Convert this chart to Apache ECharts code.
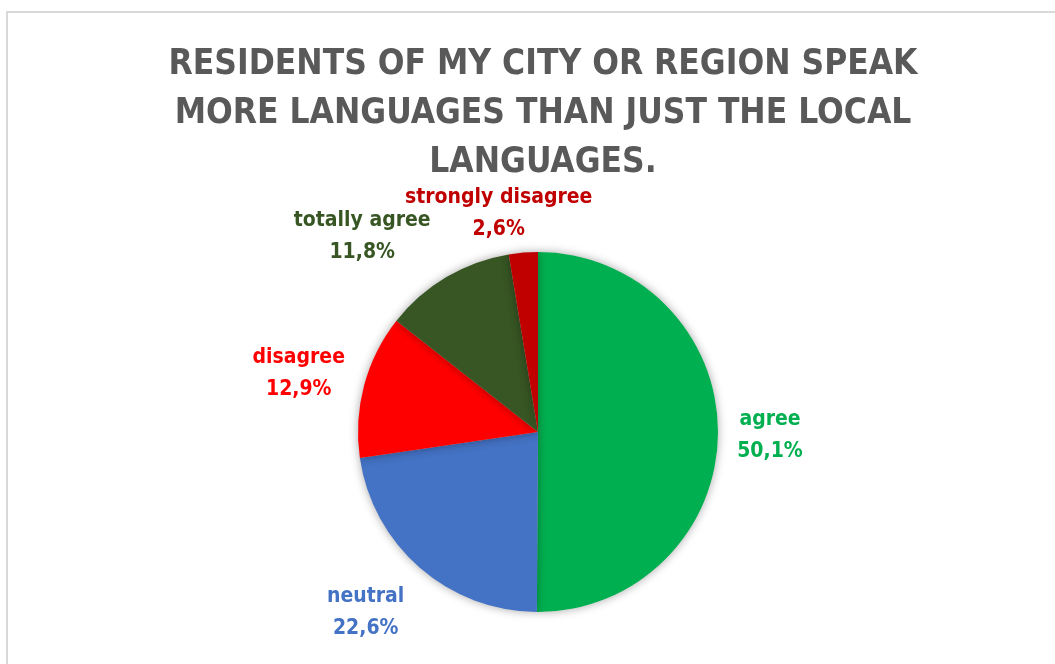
<!DOCTYPE html>
<html>
<head>
<meta charset="utf-8">
<script src="https://cdn.jsdelivr.net/npm/echarts@6/dist/echarts.min.js"></script>
<style>
  html, body { margin: 0; padding: 0; background: #ffffff; overflow: hidden; }
  #frame { position: absolute; left: 6px; top: 11px; width: 1100px; height: 700px;
           border: 2px solid #d9d9d9; box-sizing: border-box; }
  #chart { position: absolute; left: 0; top: 0; width: 1055px; height: 664px; }
</style>
</head>
<body>
<div id="frame"></div>
<div id="chart"></div>
<script>
// Survey answers, clockwise from twelve o'clock
const categories = ['agree', 'neutral', 'disagree', 'totally agree', 'strongly disagree'];
const shares = [50.1, 22.6, 12.9, 11.8, 2.6];
const sliceColors = ['#00B050', '#4472C4', '#FF0000', '#375623', '#C00000'];

// Nudges that move each label off the default outside spot
const labelNudge = [[27, 3], [-36, 30], [-41, -7], [-69, -23], [-18, -19]];

const titleText = 'RESIDENTS OF MY CITY OR REGION SPEAK\nMORE LANGUAGES THAN JUST THE LOCAL\nLANGUAGES.';
const fontStack = "'DejaVu Sans Condensed', 'Liberation Sans', sans-serif";

const chart = echarts.init(document.getElementById('chart'), null, { renderer: 'canvas' });

const data = categories.map((name, i) => ({
  name: name,
  value: shares[i],
  itemStyle: { color: sliceColors[i] },
  label: { color: sliceColors[i] }
}));

chart.setOption({
  backgroundColor: 'transparent',
  animation: false,
  title: {
    text: titleText,
    left: 538,
    top: 35,
    textAlign: 'center',
    textStyle: {
      fontFamily: fontStack,
      fontWeight: 'bold',
      fontSize: 35,
      lineHeight: 49,
      color: '#595959'
    }
  },
  series: [{
    type: 'pie',
    center: [538, 432],
    radius: 180,
    startAngle: 90,
    clockwise: true,
    data: data,
    itemStyle: {
      borderWidth: 0,
      shadowBlur: 10,
      shadowColor: 'rgba(0,0,0,0.35)'
    },
    label: {
      show: true,
      position: 'outside',
      fontFamily: fontStack,
      fontWeight: 'bold',
      fontSize: 21,
      lineHeight: 32,
      formatter: p => p.name + '\n' + p.value.toFixed(1).replace('.', ',') + '%'
    },
    labelLine: { show: false, length: 20, length2: 0 },
    avoidLabelOverlap: false,
    labelLayout: p => ({
      hideOverlap: false,
      align: 'center',
      dx: labelNudge[p.dataIndex][0],
      dy: labelNudge[p.dataIndex][1]
    })
  }]
});
</script>
</body>
</html>
